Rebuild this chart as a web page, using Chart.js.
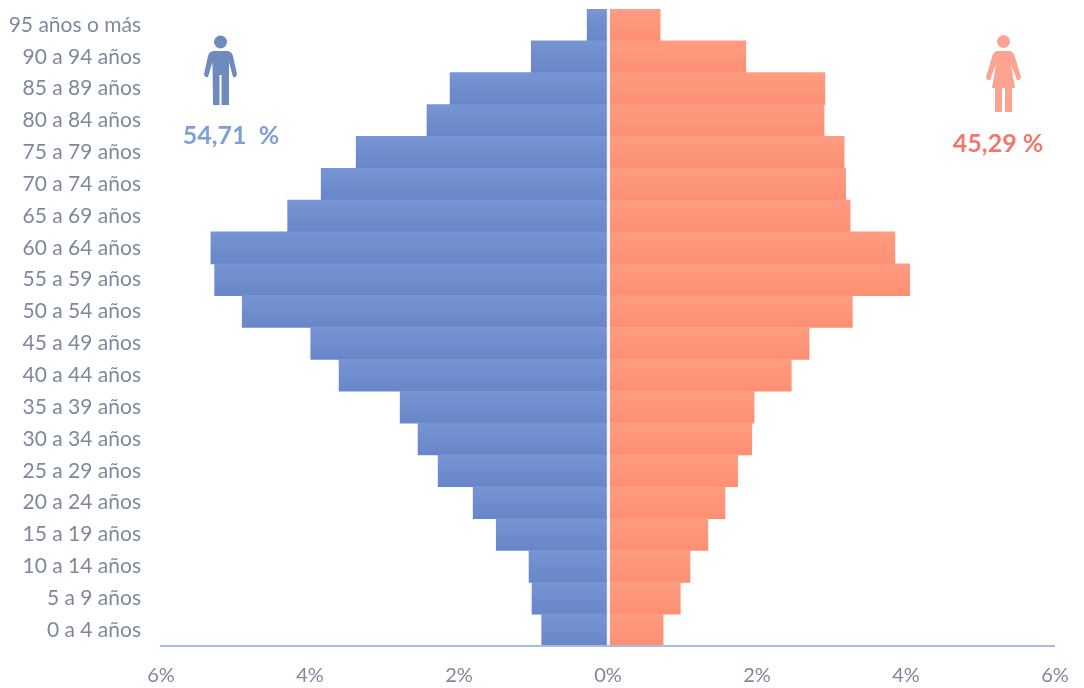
<!DOCTYPE html>
<html>
<head>
<meta charset="utf-8">
<script src="https://cdn.jsdelivr.net/npm/chart.js@4"></script>
<style>
  html, body { margin: 0; padding: 0; background: #fff; }
  #wrap { width: 1084px; height: 688px; }
</style>
</head>
<body>
<div id="wrap"><canvas id="pyramid"></canvas></div>
<script>
const ageGroups = [
  "95 años o más", "90 a 94 años", "85 a 89 años", "80 a 84 años", "75 a 79 años",
  "70 a 74 años", "65 a 69 años", "60 a 64 años", "55 a 59 años", "50 a 54 años",
  "45 a 49 años", "40 a 44 años", "35 a 39 años", "30 a 34 años", "25 a 29 años",
  "20 a 24 años", "15 a 19 años", "10 a 14 años", "5 a 9 años", "0 a 4 años",
];
const hombres = [
  0.28, 1.03, 2.12, 2.43, 3.38, 3.85, 4.30, 5.33, 5.28, 4.91,
  3.99, 3.61, 2.79, 2.55, 2.28, 1.81, 1.50, 1.06, 1.02, 0.89,
];
const mujeres = [
  0.70, 1.85, 2.91, 2.90, 3.17, 3.19, 3.25, 3.85, 4.05, 3.28,
  2.70, 2.46, 1.96, 1.93, 1.74, 1.57, 1.34, 1.10, 0.97, 0.74,
];
const totalHombres = "54,71  %";
const totalMujeres = "45,29 %";

const textColor = "#7d899a";

// each bar is a little lighter at the top than at the bottom
function barShade(top, bottom) {
  return (c) => {
    const y = c.chart.scales.y;
    if (!y || c.dataIndex === undefined) return bottom;
    const mid = y.getPixelForValue(c.dataIndex);
    const half = (y.getPixelForValue(1) - y.getPixelForValue(0)) / 2;
    if (!Number.isFinite(mid) || !Number.isFinite(half)) return bottom;
    const g = c.chart.ctx.createLinearGradient(0, mid - half, 0, mid + half);
    g.addColorStop(0, top);
    g.addColorStop(1, bottom);
    return g;
  };
}

// man and woman pictograms plus the two totals
const figures = {
  id: "figures",
  afterDraw(chart) {
    const c = chart.ctx;
    c.save();

    // man
    c.fillStyle = "#6f8abf";
    c.beginPath();
    c.arc(220.5, 42, 6.5, 0, Math.PI * 2);
    c.fill();
    c.beginPath();
    c.moveTo(213, 51);
    c.lineTo(228, 51);
    c.quadraticCurveTo(232, 52, 233, 56);
    c.lineTo(237, 74);
    c.quadraticCurveTo(236, 78, 233, 77);
    c.lineTo(229, 62);
    c.lineTo(229, 105);
    c.lineTo(221.5, 105);
    c.lineTo(221.5, 75);
    c.lineTo(219.5, 75);
    c.lineTo(219.5, 105);
    c.lineTo(213, 105);
    c.lineTo(212.5, 62);
    c.lineTo(208, 77);
    c.quadraticCurveTo(205, 78, 204, 74);
    c.lineTo(208, 56);
    c.quadraticCurveTo(209, 52, 213, 51);
    c.fill();

    // woman
    c.fillStyle = "#fca391";
    c.beginPath();
    c.arc(1003.5, 41.5, 6.5, 0, Math.PI * 2);
    c.fill();
    c.beginPath();
    c.moveTo(997, 51);
    c.lineTo(1010, 51);
    c.quadraticCurveTo(1014, 52, 1015, 57);
    c.lineTo(1021, 77);
    c.quadraticCurveTo(1020, 81, 1017, 80);
    c.lineTo(1011, 64);
    c.lineTo(1015, 88);
    c.lineTo(1012, 88);
    c.lineTo(1012, 112);
    c.lineTo(1005, 112);
    c.lineTo(1005, 88);
    c.lineTo(1002, 88);
    c.lineTo(1002, 112);
    c.lineTo(995, 112);
    c.lineTo(995, 88);
    c.lineTo(992, 88);
    c.lineTo(996, 64);
    c.lineTo(990, 80);
    c.quadraticCurveTo(987, 81, 986, 77);
    c.lineTo(992, 57);
    c.quadraticCurveTo(993, 52, 997, 51);
    c.fill();

    c.font = "bold 25px Lato";
    c.textBaseline = "alphabetic";
    c.textAlign = "center";
    c.fillStyle = "#7f9fd8";
    c.fillText(totalHombres, 231, 144);
    c.fillStyle = "#f0776c";
    c.fillText(totalMujeres, 998, 152);
    c.restore();
  },
};

const ctx = document.getElementById("pyramid");

new Chart(ctx, {
  type: "bar",
  data: {
    labels: ageGroups,
    datasets: [
      {
        label: "Hombres",
        data: hombres.map((v) => -v),
        backgroundColor: barShade("#7794d4", "#6886c8"),
        borderWidth: 0,
      },
      {
        label: "Mujeres",
        data: mujeres,
        backgroundColor: barShade("#ff9c82", "#fd8f72"),
        borderWidth: 0,
      },
    ],
  },
  plugins: [figures],
  options: {
    indexAxis: "y",
    responsive: true,
    maintainAspectRatio: false,
    animation: false,
    layout: { padding: { top: 9, right: 29 } },
    datasets: { bar: { barPercentage: 1, categoryPercentage: 1 } },
    scales: {
      x: {
        stacked: true,
        min: -6,
        max: 6,
        afterFit(scale) {
          scale.height = 42;
          scale.paddingLeft = 0;
          scale.paddingRight = 0;
        },
        grid: {
          z: 1,
          drawTicks: false,
          lineWidth: (c) => (c.tick && c.tick.value === 0 ? 3 : 0),
          color: "#f4f6fa",
        },
        // border has to go after the grid layer
        border: { color: "#a9bcde", width: 2, z: 2 },
        ticks: {
          stepSize: 2,
          padding: 18,
          maxRotation: 0,
          color: textColor,
          font: { family: "Lato", size: 20 },
          callback: (v) => Math.abs(v) + "%",
        },
      },
      y: {
        stacked: true,
        afterFit(scale) {
          scale.width = 161;
          scale.paddingTop = 0;
          scale.paddingBottom = 0;
        },
        grid: { display: false },
        border: { display: false },
        ticks: {
          padding: 12,
          autoSkip: false,
          color: textColor,
          font: { family: "Lato", size: 21 },
        },
      },
    },
    plugins: {
      legend: { display: false },
      tooltip: { enabled: false },
    },
  },
});
</script>
</body>
</html>
